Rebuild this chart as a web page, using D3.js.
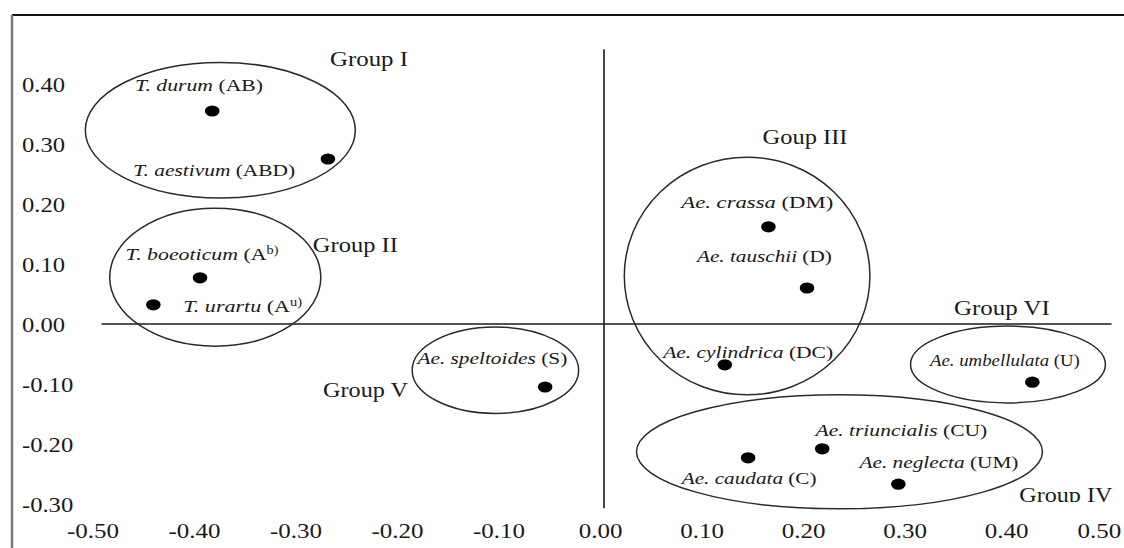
<!DOCTYPE html>
<html>
<head>
<meta charset="utf-8">
<script src="https://cdn.jsdelivr.net/npm/d3@7"></script>
<style>
  html, body { margin: 0; padding: 0; background: #fff; }
  svg { display: block; }
  text { font-family: "Liberation Serif", "Times New Roman", serif; fill: #1a1a1a; }
</style>
</head>
<body>
<svg id="chart" width="1124" height="548"></svg>
<script>
// ---------- data ----------
const xTicks = [-0.5, -0.4, -0.3, -0.2, -0.1, 0.0, 0.1, 0.2, 0.3, 0.4, 0.5];
const yTicks = [0.4, 0.3, 0.2, 0.1, 0.0, -0.1, -0.2, -0.3];

const species = ["T. durum", "T. aestivum", "T. boeoticum", "T. urartu", "Ae. speltoides",
  "Ae. crassa", "Ae. tauschii", "Ae. cylindrica", "Ae. umbellulata",
  "Ae. caudata", "Ae. triuncialis", "Ae. neglecta"];
const genomeBase = ["AB", "ABD", "A", "A", "S", "DM", "D", "DC", "U", "C", "CU", "UM"];
const genomeSup  = ["", "", "b)", "u)", "", "", "", "", "", "", "", ""];
const pc1 = [-0.386, -0.272, -0.398, -0.444, -0.058, 0.162, 0.200, 0.119, 0.422, 0.142, 0.215, 0.290];
const pc2 = [0.355, 0.275, 0.077, 0.032, -0.105, 0.162, 0.060, -0.068, -0.097, -0.223, -0.208, -0.267];

const groupNames = ["Group I", "Group II", "Goup III", "Group IV", "Group V", "Group VI"];
const groupCx = [-0.378, -0.383, 0.141, 0.232, -0.107, 0.398];
const groupCy = [0.323, 0.078, 0.080, -0.213, -0.077, -0.0675];
const groupRx = [0.133, 0.104, 0.121, 0.200, 0.082, 0.096];
const groupRy = [0.113, 0.115, 0.198, 0.095, 0.072, 0.064];

// ---------- annotation layout (label anchors in data units, target widths in px) ----------
const speciesLabelX = [-0.399, -0.384, -0.396, -0.356, -0.110, 0.151, 0.158, 0.142, 0.395, 0.143, 0.293, 0.330];
const speciesLabelY = [0.398, 0.257, 0.117, 0.030, -0.057, 0.203, 0.113, -0.047, -0.060, -0.257, -0.177, -0.230];
const speciesLabelW = [128, 162, 153, 119, 150, 152, 135, 170, 150, 135, 172, 159];
const groupLabelX = [-0.2315, -0.245, 0.198, 0.455, -0.235, 0.392];
const groupLabelY = [0.443, 0.132, 0.313, -0.285, -0.110, 0.027];
const groupLabelW = [78, 85, 85, 93, 85, 96];

// ---------- scales ----------
const x = d3.scaleLinear().domain([-0.5, 0.5]).range([96.5, 1111.5]);
const y = d3.scaleLinear().domain([-0.3, 0.4]).range([504, 84]);

const svg = d3.select("#chart");
svg.append("rect").attr("width", 1124).attr("height", 548).attr("fill", "#fff");

// frame
svg.append("line").attr("x1", 12).attr("x2", 1124).attr("y1", 15).attr("y2", 15)
  .attr("stroke", "#111").attr("stroke-width", 2);
svg.append("line").attr("x1", 12).attr("x2", 12).attr("y1", 15).attr("y2", 548)
  .attr("stroke", "#7a7a7a").attr("stroke-width", 2.5);

const defs = svg.append("defs");
defs.append("clipPath").attr("id", "plotClip").append("rect")
  .attr("x", 0).attr("y", 0).attr("width", 1124).attr("height", 502);

// zero lines
svg.append("line").attr("x1", x(-0.495)).attr("x2", x(0.5)).attr("y1", y(0)).attr("y2", y(0))
  .attr("stroke", "#1a1a1a").attr("stroke-width", 1.6);
svg.append("line").attr("x1", x(0)).attr("x2", x(0)).attr("y1", y(0.458)).attr("y2", y(-0.307))
  .attr("stroke", "#1a1a1a").attr("stroke-width", 1.6);

// axes (labels only)
const fmt = d3.formatLocale({decimal: ".", thousands: ",", grouping: [3], currency: ["", ""], minus: "-"}).format(".2f");

const yAxis = svg.append("g").attr("transform", "translate(22,0)")
  .call(d3.axisLeft(y).tickValues(yTicks).tickFormat(fmt).tickSize(0));
yAxis.select(".domain").remove();
yAxis.selectAll("text")
  .attr("x", 0).attr("dy", "0.35em").attr("text-anchor", "start")
  .attr("transform", "scale(1.2,1)")
  .style("font-family", "'Liberation Serif', 'Times New Roman', serif")
  .style("font-size", "20.5px").style("fill", "#1a1a1a");

const xAxis = svg.append("g").attr("transform", "translate(-4,531)")
  .call(d3.axisBottom(x).tickValues(xTicks).tickFormat(fmt).tickSize(0));
xAxis.select(".domain").remove();
xAxis.selectAll("text")
  .attr("y", 0).attr("dy", "0.35em").attr("text-anchor", "middle")
  .attr("x", (d, i) => (i === xTicks.length - 1 ? -7 : 0))
  .attr("transform", "scale(1.22,1)")
  .style("font-family", "'Liberation Serif', 'Times New Roman', serif")
  .style("font-size", "20.5px").style("fill", "#1a1a1a");

// group ellipses
svg.append("g").selectAll("ellipse").data(groupNames).join("ellipse")
  .attr("cx", (d, i) => x(groupCx[i]))
  .attr("cy", (d, i) => y(groupCy[i]))
  .attr("rx", (d, i) => x(groupCx[i] + groupRx[i]) - x(groupCx[i]))
  .attr("ry", (d, i) => y(groupCy[i]) - y(groupCy[i] + groupRy[i]))
  .attr("fill", "none").attr("stroke", "#2a2a2a").attr("stroke-width", 1.5);

// points
svg.append("g").selectAll("ellipse").data(species).join("ellipse")
  .attr("cx", (d, i) => x(pc1[i]))
  .attr("cy", (d, i) => y(pc2[i]))
  .attr("rx", 7.3).attr("ry", 5.6)
  .attr("fill", "#000");

// helper for horizontally stretched centred labels
function fitLabel(sel, targetW, cx, cy) {
  const nat = sel.node().getComputedTextLength();
  const s = nat > 0 ? targetW / nat : 1;
  sel.attr("transform", `translate(${cx},${cy}) scale(${s},1)`);
}

// species labels
const sl = svg.append("g");
species.forEach((name, i) => {
  const t = sl.append("text").attr("x", 0).attr("y", 0).attr("dy", "0.35em")
    .attr("text-anchor", "middle").style("font-size", "17.5px");
  t.append("tspan").style("font-style", "italic").text(name);
  t.append("tspan").text(" (" + genomeBase[i] + (genomeSup[i] ? "" : ")"));
  if (genomeSup[i]) {
    t.append("tspan").attr("baseline-shift", "super").style("font-size", "11.5px").text(genomeSup[i]);
  }
  fitLabel(t, speciesLabelW[i], x(speciesLabelX[i]), y(speciesLabelY[i]));
});

// group labels
const gl = svg.append("g").attr("clip-path", "url(#plotClip)");
groupNames.forEach((name, i) => {
  const t = gl.append("text").attr("x", 0).attr("y", 0).attr("dy", "0.35em")
    .attr("text-anchor", "middle").style("font-size", "21px").text(name);
  fitLabel(t, groupLabelW[i], x(groupLabelX[i]), y(groupLabelY[i]));
});
</script>
</body>
</html>
